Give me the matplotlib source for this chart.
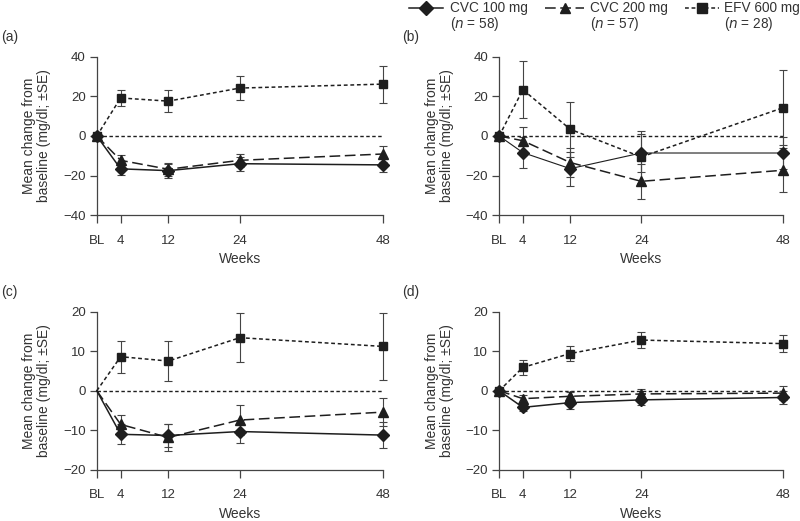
import matplotlib
matplotlib.use("Agg")
import matplotlib.pyplot as plt
from matplotlib.lines import Line2D

plt.rcParams['font.family'] = ['Liberation Sans', 'DejaVu Sans']

# -------------------------------------------------
# Datos.
# -------------------------------------------------
weeks = [0, 4, 12, 24, 48]
week_labels = ['BL', '4', '12', '24', '48']

series_names = ['CVC 100 mg', 'CVC 200 mg', 'EFV 600 mg']
series_n = [58, 57, 28]

# (a)
a_cvc100 = [0, -16.6, -17.5, -14.0, -14.6]
a_cvc100_se = [0, 3.2, 3.5, 3.5, 3.7]
a_cvc200 = [0, -12.3, -16.8, -12.3, -9.1]
a_cvc200_se = [0, 2.7, 3.2, 3.4, 3.9]
a_efv = [0, 19.2, 17.6, 24.2, 26.2]
a_efv_se = [0, 4.0, 5.4, 6.0, 9.4]

# (b)
b_cvc100 = [0, -8.4, -16.5, -8.6, -8.6]
b_cvc100_se = [0, 8.0, 8.6, 9.5, 8.0]
b_cvc200 = [0, -2.4, -13.4, -22.9, -17.3]
b_cvc200_se = [0, 7.0, 7.5, 9.0, 11.0]
b_efv = [0, 23.4, 3.4, -10.6, 14.3]
b_efv_se = [0, 14.4, 14.0, 13.0, 19.0]

# (c)
c_cvc100 = [0, -11.0, -11.3, -10.3, -11.2]
c_cvc100_se = [0, 2.5, 3.0, 3.0, 3.2]
c_cvc200 = [0, -8.5, -11.8, -7.4, -5.4]
c_cvc200_se = [0, 2.5, 3.4, 3.7, 3.5]
c_efv = [0, 8.6, 7.5, 13.4, 11.2]
c_efv_se = [0, 4.0, 5.1, 6.2, 8.4]

# (d)
d_cvc100 = [0, -4.2, -3.0, -2.3, -1.7]
d_cvc100_se = [0, 1.0, 1.6, 1.4, 1.7]
d_cvc200 = [0, -2.0, -1.4, -0.8, -0.6]
d_cvc200_se = [0, 1.0, 1.1, 1.2, 1.7]
d_efv = [0, 5.9, 9.4, 12.8, 11.9]
d_efv_se = [0, 1.8, 1.9, 2.1, 2.1]

# -------------------------------------------------
# Estilos.
# -------------------------------------------------
TXT = '#333333'
LINE = '#1e1e1e'
estilos = [
    dict(marker='D', ms=6.0, dashes=None),
    dict(marker='^', ms=6.5, dashes=(7, 3)),
    dict(marker='s', ms=6.0, dashes=(2.5, 1.8)),
]

paneles = [
    ('(a)', [0.121, 0.587, 0.3575, 0.304], 40, [a_cvc100, a_cvc200, a_efv],
     [a_cvc100_se, a_cvc200_se, a_efv_se], True, 1.1),
    ('(b)', [0.624, 0.587, 0.355, 0.304], 40, [b_cvc100, b_cvc200, b_efv],
     [b_cvc100_se, b_cvc200_se, b_efv_se], True, 0.8),
    ('(c)', [0.121, 0.098, 0.3575, 0.304], 20, [c_cvc100, c_cvc200, c_efv],
     [c_cvc100_se, c_cvc200_se, c_efv_se], False, 1.1),
    ('(d)', [0.624, 0.098, 0.355, 0.304], 20, [d_cvc100, d_cvc200, d_efv],
     [d_cvc100_se, d_cvc200_se, d_efv_se], True, 1.1),
]

fig = plt.figure(figsize=(8, 5.21), dpi=100)

for label, rect, ymax, valores, errores, marca_bl, lw_solid in paneles:
    ax = fig.add_axes(rect)
    ax.set_xlim(0, 48)
    ax.set_ylim(-ymax, ymax)

    # línea de referencia en 0
    ax.plot([weeks[0], weeks[-1]], [0, 0], color=LINE, lw=1.0,
            dashes=(2.5, 1.8), zorder=1)

    for i, (y, e, st) in enumerate(zip(valores, errores, estilos)):
        eb = ax.errorbar(weeks[1:], y[1:], yerr=e[1:], fmt='none',
                         ecolor='#444444', elinewidth=0.8, capsize=3,
                         capthick=0.8, zorder=2)
        for art in eb.lines[1] + eb.lines[2]:
            art.set_clip_on(False)
        kw = dict(color=LINE, lw=lw_solid if i == 0 else 1.1,
                  marker=st['marker'], ms=st['ms'], clip_on=False, zorder=3)
        if st['dashes'] is not None:
            kw['dashes'] = st['dashes']
        if not marca_bl:
            kw['markevery'] = [1, 2, 3, 4]
        ax.plot(weeks, y, **kw)

    ax.spines['top'].set_visible(False)
    ax.spines['right'].set_visible(False)
    for s in ('left', 'bottom'):
        ax.spines[s].set_color('#444444')
        ax.spines[s].set_linewidth(0.9)

    yt = [-ymax, -ymax // 2, 0, ymax // 2, ymax]
    ax.set_xticks(weeks)
    ax.set_xticklabels(week_labels)
    ax.set_yticks(yt)
    ax.set_yticklabels([f'{v:g}'.replace('-', '\u2212') for v in yt])
    ax.tick_params(axis='x', length=6, width=0.9, color='#444444', pad=8,
                   labelsize=9.5, labelcolor=TXT)
    ax.tick_params(axis='y', length=5, width=0.9, color='#444444', pad=3,
                   labelsize=9.5, labelcolor=TXT)

    ax.set_ylabel('Mean change from\nbaseline (mg/dl; \u00b1SE)', fontsize=10,
                  color=TXT, linespacing=1.1)
    ax.yaxis.set_label_coords(-0.16, 0.5)
    ax.set_xlabel('Weeks', fontsize=10, color=TXT, va='top')
    ax.xaxis.set_label_coords(0.5, -0.235)

    x0 = 0.002 if rect[0] < 0.5 else 0.503
    fig.text(x0, rect[1] + rect[3] + 0.038, label, fontsize=10, color=TXT,
             va='center', ha='left')

# -------------------------------------------------
# Leyenda (arriba a la derecha).
# -------------------------------------------------
W, H = 800, 521
leg_x = [(409, 443), (545, 584), (685, 719)]
txt_x = [450, 590, 724]
y1 = 1 - 8 / H
y2 = 1 - 24 / H
for (xa, xb), xt, st, name, n in zip(leg_x, txt_x, estilos, series_names, series_n):
    xm = (xa + xb) / 2
    kw = dict(color=LINE, lw=1.1, marker=st['marker'], ms=st['ms'] + 1,
              markevery=[1], transform=fig.transFigure)
    if st['dashes'] is not None:
        kw['dashes'] = st['dashes']
    fig.add_artist(Line2D([xa / W, xm / W, xb / W], [y1, y1, y1], **kw))
    fig.text(xt / W, y1, name, fontsize=9.8, color=TXT, va='center', ha='left')
    fig.text(xt / W, y2, f'($n$ = {n})', fontsize=9.8, color=TXT, va='center',
             ha='left')

fig.savefig('out.png', dpi=100)
